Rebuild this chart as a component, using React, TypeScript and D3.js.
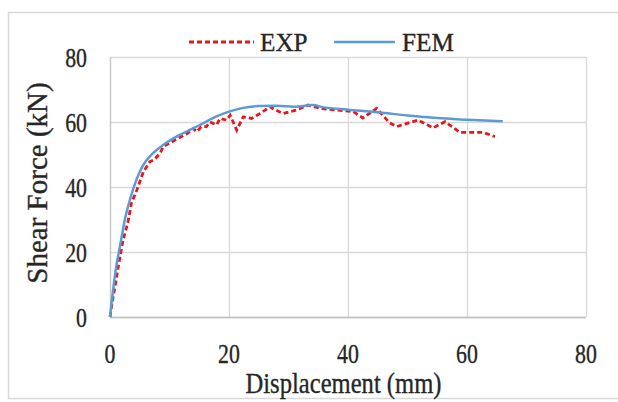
import React from "react";
import * as d3 from "d3";

const xTicks = [0, 20, 40, 60, 80];
const yTicks = [0, 20, 40, 60, 80];

const expX = [0, 0.5, 1, 1.4, 2.2, 3, 3.6, 4.5, 5.6, 6.7, 7.5, 8.4, 9, 10, 11, 12, 13, 14, 14.6, 15.3, 16.2, 16.8, 17.9, 18.5, 19.6, 20.2, 21.3, 22.4, 23.8, 25.2, 26.9, 27.5, 29.1, 31.4, 33.3, 35.3, 38.1, 40.9, 42.5, 44.8, 47, 48.2, 51.8, 54.3, 56.3, 58.8, 62.7, 64.7];
const expY = [0, 6, 11, 15.5, 23.7, 29, 35, 39, 44.7, 47.8, 48.5, 50.4, 52.5, 53.5, 54.5, 55.5, 56.5, 58, 57, 58.5, 58.6, 60, 59.1, 61.1, 60.6, 62.1, 57.5, 61.6, 61.1, 62.6, 64.7, 64, 62.6, 63.7, 65.2, 64.2, 63.7, 63.2, 61.2, 64.2, 59.7, 58.6, 60.6, 58.2, 60.1, 56.8, 56.8, 55.5];

const femX = [0, 0.5, 1, 1.7, 2.5, 3.5, 4.5, 5.5, 7, 9, 12, 15, 18, 20, 22, 25, 28, 31, 34, 36, 40, 45, 50, 55, 60, 66];
const femY = [0, 8, 15, 22, 30, 37, 42.5, 46.5, 50, 53, 56.3, 59, 61.8, 63.2, 64.2, 64.9, 65, 64.7, 65.2, 64.5, 63.8, 63, 62, 61.2, 60.7, 60.2];

const seriesNames = ["EXP", "FEM"];

export default function App() {
  const W = 618, H = 402;
  const left = 110, right = 586, top = 57, bottom = 317;
  const x = d3.scaleLinear().domain([0, 80]).range([left, right]);
  const y = d3.scaleLinear().domain([0, 80]).range([bottom, top]);

  const exp = expX.map((d, i) => [d, expY[i]] as [number, number]);
  const fem = femX.map((d, i) => [d, femY[i]] as [number, number]);

  const lineExp = d3.line<[number, number]>().x(d => x(d[0])).y(d => y(d[1]));
  const lineFem = d3.line<[number, number]>().x(d => x(d[0])).y(d => y(d[1])).curve(d3.curveMonotoneX);

  const fs = { fontFamily: "'Liberation Serif', 'DejaVu Serif', serif" };
  const grid = "#d9d9d9";
  const tc = "#262626";
  const ts = { stroke: "#262626", strokeWidth: 0.35 };

  return (
    <svg width={W} height={H} style={{ position: "absolute", left: 0, top: 0, background: "#fff" }}>
      <rect x={0} y={0} width={W} height={H} fill="#fff" />
      <rect x={8.5} y={12.5} width={W + 10} height={386} fill="none" stroke="#d9d9d9" strokeWidth={1.5} />
      {yTicks.map(t => (
        <line key={"gy" + t} x1={left} x2={right} y1={Math.round(y(t)) + 0.5} y2={Math.round(y(t)) + 0.5} stroke={grid} strokeWidth={1.3} />
      ))}
      {xTicks.map(t => (
        <line key={"gx" + t} x1={Math.round(x(t)) + 0.5} x2={Math.round(x(t)) + 0.5} y1={top} y2={bottom} stroke={grid} strokeWidth={1.3} />
      ))}
      <line x1={left} x2={right} y1={bottom + 0.5} y2={bottom + 0.5} stroke="#bfbfbf" strokeWidth={1.3} />
      <line x1={left + 0.5} x2={left + 0.5} y1={top} y2={bottom} stroke="#c8c8c8" strokeWidth={1.3} />

      <path d={lineExp(exp) || ""} fill="none" stroke="#e8161b" strokeWidth={2.8} strokeDasharray="5,3" />
      <path d={lineFem(fem) || ""} fill="none" stroke="#5b9bd5" strokeWidth={2.5} />

      {yTicks.map(t => (
        <text key={"ty" + t} transform={`translate(87,${y(t) + 9.5}) scale(0.78,1)`} textAnchor="end" style={{ ...fs, ...ts }} fontSize={28} fill={tc}>{t}</text>
      ))}
      {xTicks.map(t => (
        <text key={"tx" + t} transform={`translate(${x(t)},${363}) scale(0.78,1)`} textAnchor="middle" style={{ ...fs, ...ts }} fontSize={28} fill={tc}>{t}</text>
      ))}
      <text transform={`translate(343.5,393) scale(0.82,1)`} textAnchor="middle" style={{ ...fs, ...ts }} fontSize={30} fill={tc}>Displacement (mm)</text>
      <text transform={`translate(47,183) rotate(-90)`} textAnchor="middle" style={{ ...fs, ...ts }} fontSize={29} fill={tc}>Shear  Force (kN)</text>

      <line x1={189} x2={254} y1={42} y2={42} stroke="#e8161b" strokeWidth={2.8} strokeDasharray="5,3" />
      <text transform="translate(260,51) scale(0.97,1)" style={{ ...fs, ...ts }} fontSize={26} fill={tc}>{seriesNames[0]}</text>
      <line x1={334} x2={395} y1={42} y2={42} stroke="#5b9bd5" strokeWidth={2.5} />
      <text transform="translate(402,51) scale(0.97,1)" style={{ ...fs, ...ts }} fontSize={26} fill={tc}>{seriesNames[1]}</text>
    </svg>
  );
}
